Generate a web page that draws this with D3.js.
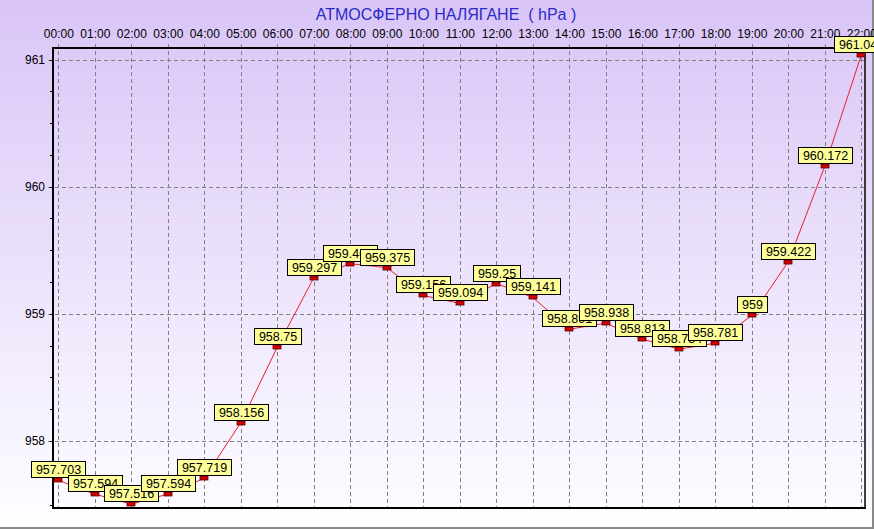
<!DOCTYPE html>
<html><head><meta charset="utf-8">
<script src="https://cdn.jsdelivr.net/npm/d3@7"></script>
<style>html,body{margin:0;padding:0;background:#fff;}svg{display:block;font-family:Arial,"Liberation Sans",sans-serif;}</style>
</head><body><svg id="c" width="874" height="529"></svg>
<script>
const title = "АТМОСФЕРНО НАЛЯГАНЕ  ( hPa )";
const hours = ["00:00","01:00","02:00","03:00","04:00","05:00","06:00","07:00","08:00","09:00","10:00","11:00","12:00","13:00","14:00","15:00","16:00","17:00","18:00","19:00","20:00","21:00","22:00"];
const pressure = [957.703,957.594,957.516,957.594,957.719,958.156,958.75,959.297,959.406,959.375,959.156,959.094,959.25,959.141,958.891,958.938,958.813,958.734,958.781,959,959.422,960.172,961.047];
const labels = ["957.703","957.594","957.516","957.594","957.719","958.156","958.75","959.297","959.406","959.375","959.156","959.094","959.25","959.141","958.891","958.938","958.813","958.734","958.781","959","959.422","960.172","961.047"];
const yTicks = [958,959,960,961];

const svg = d3.select("#c");
const W = 874, H = 529;
const plot = {l:53, r:865, t:48, b:508};

const defs = svg.append("defs");
const g = defs.append("linearGradient").attr("id","bg").attr("x1",0).attr("y1",0).attr("x2",0).attr("y2",1);
g.append("stop").attr("offset","0%").attr("stop-color","#d9c5f7");
g.append("stop").attr("offset","95%").attr("stop-color","#fcfbff");
g.append("stop").attr("offset","100%").attr("stop-color","#ffffff");
svg.append("rect").attr("x",0).attr("y",0).attr("width",W).attr("height",H).attr("fill","url(#bg)");
// frame
svg.append("line").attr("x1",0).attr("x2",W).attr("y1",H-1).attr("y2",H-1).attr("stroke","#8a8a8a").attr("stroke-width",2);
svg.append("line").attr("x1",W-1).attr("x2",W-1).attr("y1",0).attr("y2",H).attr("stroke","#8a8a8a").attr("stroke-width",2);

const x = d3.scaleLinear().domain([0,22]).range([58.3,861.3]);
const y = d3.scaleLinear().domain([958,961]).range([441,59.5]);

svg.append("text").attr("x",446).attr("y",20).attr("text-anchor","middle")
  .attr("font-size",16).attr("fill","#2b2bc8").style("white-space","pre").text(title);

// grid
const grid = svg.append("g").attr("stroke","#808080").attr("stroke-dasharray","4,3").attr("stroke-width",1);
hours.forEach((h,i)=>{
  grid.append("line").attr("x1",Math.round(x(i))+0.5).attr("x2",Math.round(x(i))+0.5).attr("y1",44).attr("y2",plot.b);
});
yTicks.forEach(v=>{
  grid.append("line").attr("x1",48).attr("x2",plot.r).attr("y1",Math.round(y(v))+0.5).attr("y2",Math.round(y(v))+0.5);
});

// top axis via d3
const xAxis = d3.axisTop(x).tickValues(d3.range(hours.length)).tickFormat(i=>hours[i]).tickSize(0).tickPadding(10);
const ax = svg.append("g").attr("transform",`translate(0,${plot.t})`).call(xAxis);
ax.select(".domain").remove();
ax.selectAll("text").attr("font-size",12).attr("fill","#000").attr("font-family","Arial, 'Liberation Sans', sans-serif");

const yAxis = d3.axisLeft(y).tickValues(yTicks).tickFormat(d3.format("d")).tickSize(0).tickPadding(8);
const ay = svg.append("g").attr("transform",`translate(${plot.l},0)`).call(yAxis);
ay.select(".domain").remove();
ay.selectAll("text").attr("font-size",12).attr("fill","#000").attr("font-family","Arial, 'Liberation Sans', sans-serif");

// minor ticks left
const minor = d3.range(957.5, 961.1, 0.25).filter(v=>y(v)>plot.t && y(v)<plot.b);
svg.append("g").selectAll("line").data(minor).join("line")
  .attr("x1",50).attr("x2",plot.l).attr("y1",d=>Math.round(y(d))+0.5).attr("y2",d=>Math.round(y(d))+0.5)
  .attr("stroke","#000").attr("stroke-width",1);

// axes lines
svg.append("line").attr("x1",plot.l).attr("x2",plot.l).attr("y1",plot.t-1).attr("y2",plot.b+1).attr("stroke","#000").attr("stroke-width",2);
svg.append("line").attr("x1",plot.l-1).attr("x2",plot.r).attr("y1",plot.t).attr("y2",plot.t).attr("stroke","#000").attr("stroke-width",2);
svg.append("line").attr("x1",plot.l-1).attr("x2",plot.r+1).attr("y1",plot.b).attr("y2",plot.b).attr("stroke","#000").attr("stroke-width",2);
svg.append("line").attr("x1",plot.r).attr("x2",plot.r).attr("y1",plot.t).attr("y2",plot.b).attr("stroke","#000").attr("stroke-width",1.5);

// line
const line = d3.line().x((d,i)=>x(i)).y(d=>y(d)+1.5);
svg.append("path").datum(pressure).attr("d",line).attr("fill","none").attr("stroke","#e8202a").attr("stroke-width",1);

// markers
svg.append("g").selectAll("rect").data(pressure).join("rect")
  .attr("x",(d,i)=>Math.round(x(i))-4).attr("y",d=>Math.round(y(d)+1.5)-2)
  .attr("width",8).attr("height",4).attr("fill","#d00000").attr("stroke","#600000").attr("stroke-width",0.8);

// labels
const lg = svg.append("g");
pressure.forEach((d,i)=>{
  const cx = x(i), cy = y(d)+1.5;
  const t = lg.append("text").attr("font-size",12.5).attr("text-anchor","middle").attr("fill","#000").text(labels[i]);
  const w = t.node().getComputedTextLength();
  const bw = Math.round(w+9), bh = 16;
  const bx = Math.round(cx - bw/2)+0.5, by = Math.round(cy - 3 - bh)+0.5;
  lg.insert("rect", function(){ return t.node(); })
    .attr("x",bx).attr("y",by).attr("width",bw).attr("height",bh)
    .attr("fill","#ffff99").attr("stroke","#000").attr("stroke-width",1);
  t.attr("x",bx+bw/2).attr("y",by+12.5);
});
</script></body></html>
